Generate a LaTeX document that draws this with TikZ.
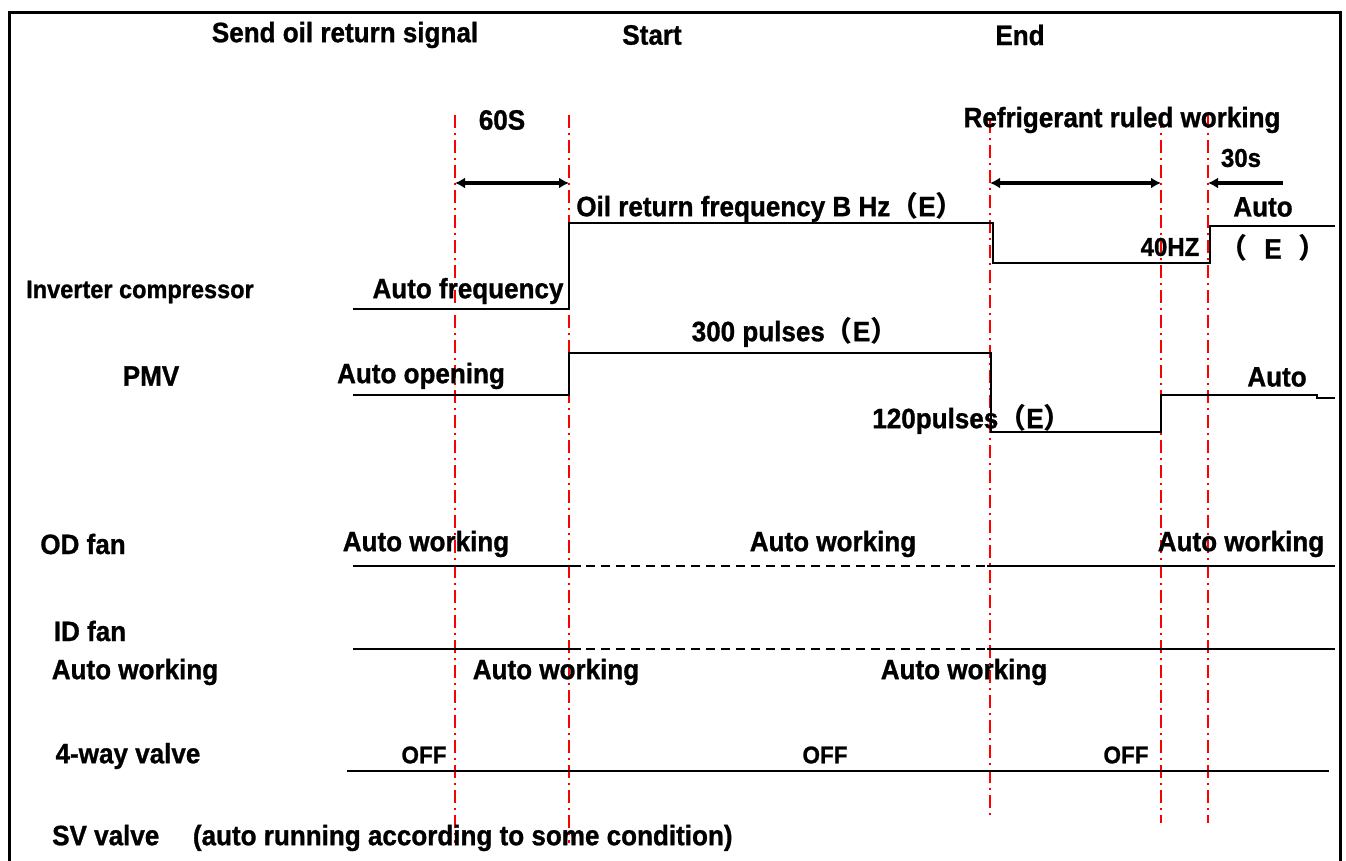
\documentclass[tikz,border=0pt]{standalone}
\usepackage{fontspec}
\setmainfont{Liberation Sans}[BoldFeatures={FakeStretch=0.93,FakeBold=1}]
\newfontfamily\cjk{Noto Sans CJK SC}
\usetikzlibrary{arrows.meta}
\newcommand\fwl{{\cjk （}}
\newcommand\fwr{{\cjk ）}}
\begin{document}
\begin{tikzpicture}[x=1pt,y=-1pt,
  lbl/.style={font=\bfseries\fontsize{28}{32}\selectfont, inner sep=0pt},
  small/.style={lbl, font=\bfseries\fontsize{25.3}{30}\selectfont},
  offlbl/.style={lbl, font=\bfseries\fontsize{24.2}{28}\selectfont},
  midlbl/.style={lbl, font=\bfseries\fontsize{25.8}{30}\selectfont},
  sig/.style={line width=2pt, line join=miter, line cap=rect},
  sigdash/.style={line width=2pt, dash pattern=on 9pt off 6pt},
  redline/.style={draw={rgb,255:red,255;green,0;blue,0}, line width=1.8pt, dash pattern=on 13pt off 5pt on 2pt off 5pt},
  dimline/.style={line width=4pt},
  tip/.tip={Latex[length=10pt,width=11pt]}
]
\useasboundingbox (0,0) rectangle (1346,861);
\fill[white] (0,0) rectangle (1346,861);
% frame
\draw[line width=3pt] (9,861) -- (9,13) -- (1340,13) -- (1340,861);

% red time markers
\draw[redline] (455,115) -- (455,843);
\draw[redline] (569,115) -- (569,843);
\draw[redline] (990,120) -- (990,815);
\draw[redline] (1161,115) -- (1161,823);
\draw[redline] (1208,115) -- (1208,823);

% dimension arrows
\coordinate (a1) at (455,183);
\coordinate (a2) at (569,183);
\coordinate (b1) at (990,183);
\coordinate (b2) at (1161,183);
\coordinate (c1) at (1283,183);
\coordinate (c2) at (1208,183);
\draw[dimline, tip-tip] (a1) -- (a2);
\draw[dimline, tip-tip] (b1) -- (b2);
\draw[dimline, -tip] (c1) -- (c2);

% top labels
\node[lbl] (send) at (345,35) {Send oil return signal};
\node[lbl] (start) at (652,35) {Start};
\node[lbl] (end) at (1020,35) {End};
\node[lbl] (sixty) at (502,120) {60S};
\node[lbl] (refr) at (1122,120) {Refrigerant ruled working};
\node[midlbl] (thirty) at (1241,158) {30s};

% inverter compressor
\node[lbl] (orf) at (770,207) {Oil return frequency B Hz\fwl E\fwr};
\node[lbl] (auto1) at (1263,207) {Auto};
\node[midlbl] (fortyhz) at (1170,247) {40HZ};
\node[lbl] (e1) at (1273,248) {\fwl\hspace{0.6em}E\hspace{0.6em}\fwr};
\node[small] (invc) at (140,292) {Inverter compressor};
\node[lbl] (autof) at (468,291) {Auto frequency};
\draw[sig] (354,309) -- (569,309) -- (569,223) -- (993,223) -- (993,263) -- (1210,263) -- (1210,226) -- (1334,226);

% PMV
\node[lbl] (p300) at (795,332) {300 pulses\fwl E\fwr};
\node[lbl] (pmv) at (151,376) {PMV};
\node[lbl] (autoop) at (421,376) {Auto opening};
\node[lbl] (p120) at (972,419) {120pulses\fwl E\fwr};
\node[lbl] (auto2) at (1277,377) {Auto};
\draw[sig] (354,395) -- (569,395) -- (569,353) -- (991,353) -- (991,432) -- (1161,432) -- (1161,395) -- (1317,395) -- (1317,398) -- (1334,398);

% OD fan
\node[lbl] (odfan) at (83,544) {OD fan};
\node[lbl] (odw1) at (426,544) {Auto working};
\node[lbl] (odw2) at (833,544) {Auto working};
\node[lbl] (odw3) at (1241,544) {Auto working};
\draw[sig] (354,566) -- (580,566);
\draw[sigdash] (586,566) -- (988,566);
\draw[sig] (988,566) -- (1334,566);

% ID fan
\node[lbl] (idfan) at (90,631) {ID fan};
\node[lbl] (idw0) at (135,672) {Auto working};
\node[lbl] (idw1) at (556,672) {Auto working};
\node[lbl] (idw2) at (964,672) {Auto working};
\draw[sig] (354,649) -- (580,649);
\draw[sigdash] (586,649) -- (988,649);
\draw[sig] (988,649) -- (1334,649);

% 4-way valve
\node[lbl] (fourway) at (128,756) {4-way valve};
\node[offlbl] (off1) at (424,755) {OFF};
\node[offlbl] (off2) at (825,755) {OFF};
\node[offlbl] (off3) at (1126,755) {OFF};
\draw[sig] (348,771) -- (1328,771);

% SV valve
\node[lbl, anchor=west] (sv) at (52,838) {SV valve\hspace{1.2em}(auto running according to some condition)};
\end{tikzpicture}
\end{document}
